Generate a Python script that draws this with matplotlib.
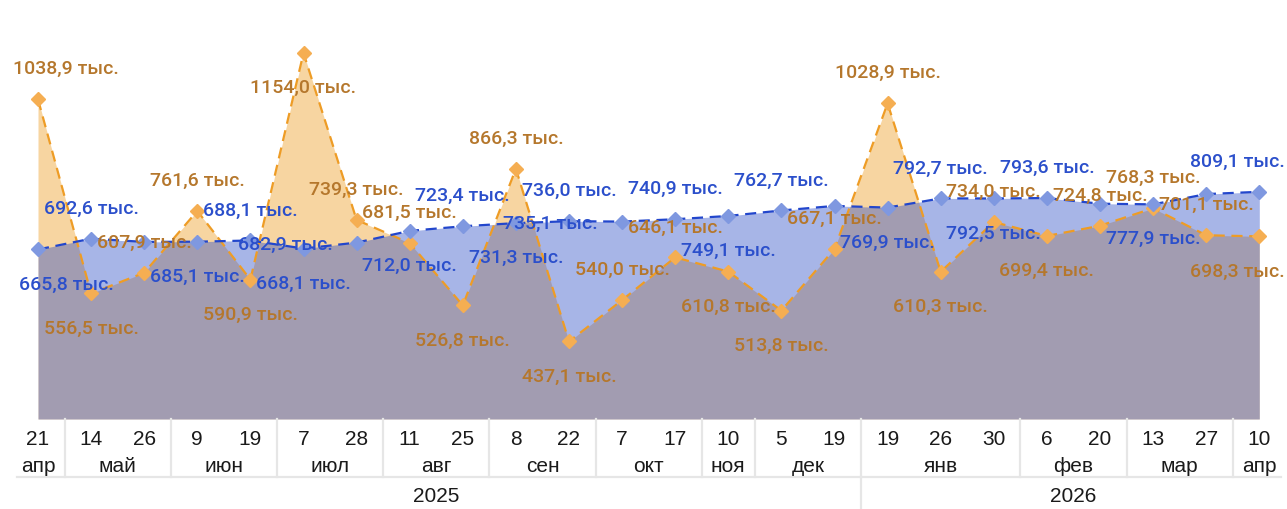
import matplotlib
matplotlib.use("Agg")
import matplotlib.pyplot as plt
from matplotlib.lines import Line2D

# ---- data -------------------------------------------------------------
days = ["21", "14", "26", "9", "19", "7", "28", "11", "25", "8", "22", "7",
        "17", "10", "5", "19", "19", "26", "30", "6", "20", "13", "27", "10"]
months = ["апр", "май", "май", "июн", "июн", "июл", "июл", "авг", "авг",
          "сен", "сен", "окт", "окт", "ноя", "дек", "дек",
          "янв", "янв", "янв", "фев", "фев", "мар", "мар", "апр"]
years = ["2025"] * 16 + ["2026"] * 8

orange_vals = [1038.9, 556.5, 607.9, 761.6, 590.9, 1154.0, 739.3, 681.5,
               526.8, 866.3, 437.1, 540.0, 646.1, 610.8, 513.8, 667.1,
               1028.9, 610.3, 734.0, 699.4, 724.8, 768.3, 701.1, 698.3]
blue_vals = [665.8, 692.6, 684.6, 685.1, 688.1, 668.1, 682.9, 712.0,
             723.4, 731.3, 736.0, 735.1, 740.9, 749.1, 762.7, 774.0,
             769.9, 792.7, 792.5, 793.6, 779.5, 777.9, 803.4, 809.1]

# ---- label layout (a = above, b = below, l = left, None = hidden) -------
orange_place = ["a", "b", "a", "a", "b", "b", "a", "a", "b", "a", "b", "a",
                "a", "b", "b", "a", "a", "b", "a", "b", "a", "a", "a", "b"]
blue_place = ["b", "a", None, "b", "a", "b", "l", "b", "a", "b", "a", "l",
              "a", "b", "a", None, "b", "a", "b", "a", None, "b", None, "a"]
edge_shift = {0: 28, 23: -22}

# ---- styles -------------------------------------------------------------
ORANGE_FILL = "#EFA230"
ORANGE_LINE = "#EE9C25"
ORANGE_MARK = "#F5AE52"
ORANGE_TEXT = "#B5772C"
BLUE_FILL = "#2E4FC8"
BLUE_LINE = "#2246CC"
BLUE_MARK = "#7F98E0"
BLUE_TEXT = "#2B4FCB"
SEP = "#E6E6E6"

W, H = 1287, 510
fig = plt.figure(figsize=(W / 100, H / 100), dpi=100)
plot_bottom_px = 420
ax = fig.add_axes([0, (H - plot_bottom_px) / H, 1, plot_bottom_px / H])

x = list(range(len(days)))
step_px = 53.1
first_px = 38
ax.set_xlim(-first_px / step_px, (W - first_px) / step_px)
ax.set_ylim(244.5, 1288.2)
ax.axis("off")

base = ax.get_ylim()[0]
ax.fill_between(x, orange_vals, base, color=ORANGE_FILL, alpha=0.45,
                linewidth=0, zorder=1)
ax.fill_between(x, blue_vals, base, color=BLUE_FILL, alpha=0.42,
                linewidth=0, zorder=2)

ax.plot(x, orange_vals, color=ORANGE_LINE, lw=1.6, dashes=(5, 3), zorder=3)
ax.plot(x, blue_vals, color=BLUE_LINE, lw=1.6, dashes=(5, 3), zorder=4)
ax.plot(x, orange_vals, ls="none", marker="D", ms=7.2, color=ORANGE_MARK,
        mec=ORANGE_MARK, zorder=5)
ax.plot(x, blue_vals, ls="none", marker="D", ms=7.2, color=BLUE_MARK,
        mec=BLUE_MARK, zorder=6)


def fmt(v):
    return f"{v:.1f}".replace(".", ",") + " тыс."


def put_labels(vals, places, color):
    for i, (v, p) in enumerate(zip(vals, places)):
        if p is None:
            continue
        dx = edge_shift.get(i, 0)
        ha = "center"
        if p == "a":
            dy = 31
        elif p == "b":
            dy = -34
        else:
            dx, dy, ha = -24, -1, "right"
        ax.annotate(fmt(v), (i, v), xytext=(dx, dy), textcoords="offset pixels",
                    ha=ha, va="center", color=color, fontsize=14,
                    family="Roboto", fontweight="medium", zorder=10,
                    annotation_clip=False)


put_labels(orange_vals, orange_place, ORANGE_TEXT)
put_labels(blue_vals, blue_place, BLUE_TEXT)

# ---- hierarchical category axis ----------------------------------------
tr = ax.get_xaxis_transform()
ph = plot_bottom_px
day_y = -(440 - ph) / ph
month_y = -(467 - ph) / ph
year_y = -(497 - ph) / ph
rule_y = -(478 - ph) / ph
fig_bottom_y = -(H - ph) / ph

axis_font = dict(family="Liberation Sans", fontsize=15, color="#1a1a1a",
                 ha="center", va="center")
for i, d in enumerate(days):
    ax.text(i, day_y, d, transform=tr, clip_on=False, **axis_font)


def spans(keys):
    """Runs of consecutive equal keys as (first, last, key)."""
    out, start = [], 0
    for i in range(1, len(keys) + 1):
        if i == len(keys) or keys[i] != keys[start]:
            out.append((start, i - 1, keys[start][-1]))
            start = i
    return out


month_keys = list(zip(years, months))
for s, e, name in spans(month_keys):
    ax.text((s + e) / 2, month_y, name, transform=tr, clip_on=False, **axis_font)
    if e < len(months) - 1:
        ax.add_line(Line2D([e + 0.5, e + 0.5], [0, rule_y], transform=tr,
                           color=SEP, lw=1.6, clip_on=False))

year_keys = [(y,) for y in years]
for s, e, name in spans(year_keys):
    ax.text((s + e) / 2, year_y, name, transform=tr, clip_on=False, **axis_font)
    if e < len(years) - 1:
        ax.add_line(Line2D([e + 0.5, e + 0.5], [rule_y, fig_bottom_y],
                           transform=tr, color=SEP, lw=1.6, clip_on=False))

ax.add_line(Line2D([-0.4, len(days) - 0.6], [rule_y, rule_y], transform=tr,
                   color=SEP, lw=1.6, clip_on=False))

fig.savefig("out.png", dpi=100)
